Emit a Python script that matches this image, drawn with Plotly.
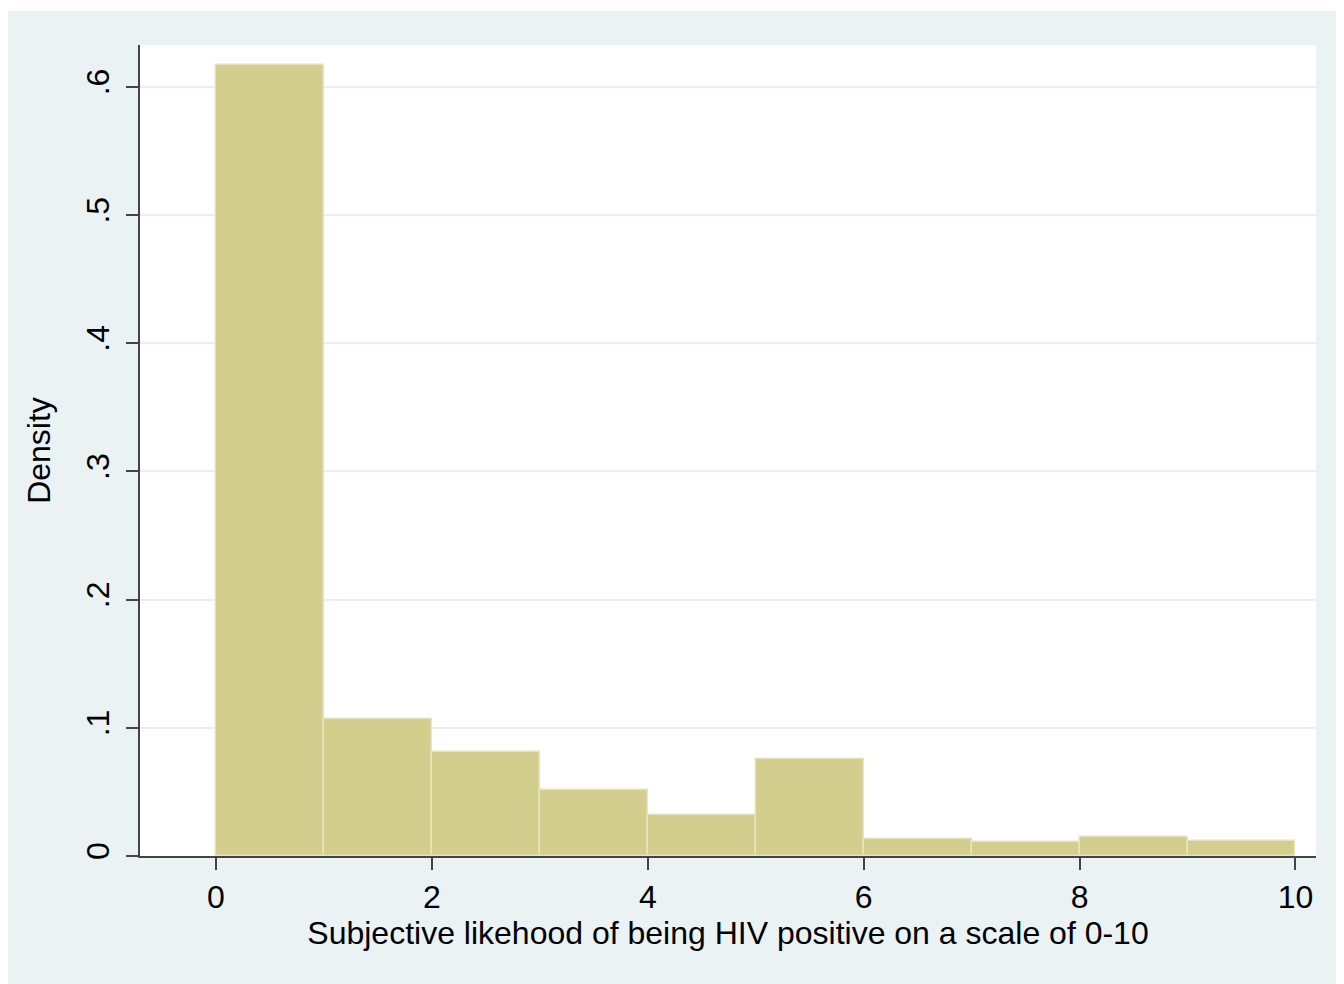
import plotly.graph_objects as go

bin_left = [0, 1, 2, 3, 4, 5, 6, 7, 8, 9]
bin_width = 1
density = [0.617, 0.107, 0.081, 0.0515, 0.032, 0.0757, 0.013, 0.011, 0.0148, 0.0114]

x_ticks = [0, 2, 4, 6, 8, 10]
x_ticklabels = ["0", "2", "4", "6", "8", "10"]
y_ticks = [0, 0.1, 0.2, 0.3, 0.4, 0.5, 0.6]
y_ticklabels = ["0", ".1", ".2", ".3", ".4", ".5", ".6"]

x_title = "Subjective likehood of being HIV positive on a scale of 0-10"
y_title = "Density"

BAR = "#D3CE8D"
EDGE = "#E6E3BE"
GRID = "#E8F0F2"
OUTER = "#EAF2F3"
AXIS = "#444444"
FONT = "Liberation Sans, Arial, Helvetica, sans-serif"

# page has an 8px body margin; the figure starts at (8, 8)
W, H = 1336, 976
L, R, T, B = 132, 28, 37, 128
pw = W - L - R
ph = H - T - B


def px_x(p):
    return (p - L) / pw


def px_y(p):
    return (H - B - p) / ph


fig = go.Figure()
fig.add_trace(go.Bar(
    x=[b + bin_width / 2 for b in bin_left],
    y=density,
    width=[bin_width] * len(bin_left),
    marker=dict(color=BAR, line=dict(color=EDGE, width=1.5)),
    hoverinfo="skip",
))

# thin white strip at top of the outer region
fig.add_shape(type="rect", xref="paper", yref="paper",
              x0=px_x(-10), x1=px_x(W + 10),
              y0=px_y(3), y1=px_y(-10),
              fillcolor="white", line_width=0, layer="below")

fig.update_layout(
    width=W, height=H,
    margin=dict(l=L, r=R, t=T, b=B, pad=0),
    paper_bgcolor=OUTER,
    plot_bgcolor="white",
    showlegend=False,
    bargap=0,
    font=dict(family=FONT, size=32, color="black"),
    xaxis=dict(
        range=[-0.704, 10.19],
        tickmode="array", tickvals=x_ticks, ticktext=x_ticklabels,
        ticks="outside", ticklen=12, tickwidth=2, tickcolor=AXIS,
        showgrid=False, zeroline=False,
        showline=True, linecolor=AXIS, linewidth=2,
        tickfont=dict(size=32),
        title=dict(text=x_title, font=dict(size=32), standoff=4),
    ),
    yaxis=dict(
        range=[0, 0.6326],
        tickmode="array", tickvals=y_ticks, ticktext=y_ticklabels,
        tickangle=-90,
        ticks="outside", ticklen=12, tickwidth=2, tickcolor=AXIS,
        ticklabelstandoff=4,
        showgrid=True, gridcolor=GRID, gridwidth=2,
        zeroline=False,
        showline=True, linecolor=AXIS, linewidth=2,
        tickfont=dict(size=32),
        title=dict(text=y_title, font=dict(size=32), standoff=20),
    ),
)

fig.write_html("out.html")
